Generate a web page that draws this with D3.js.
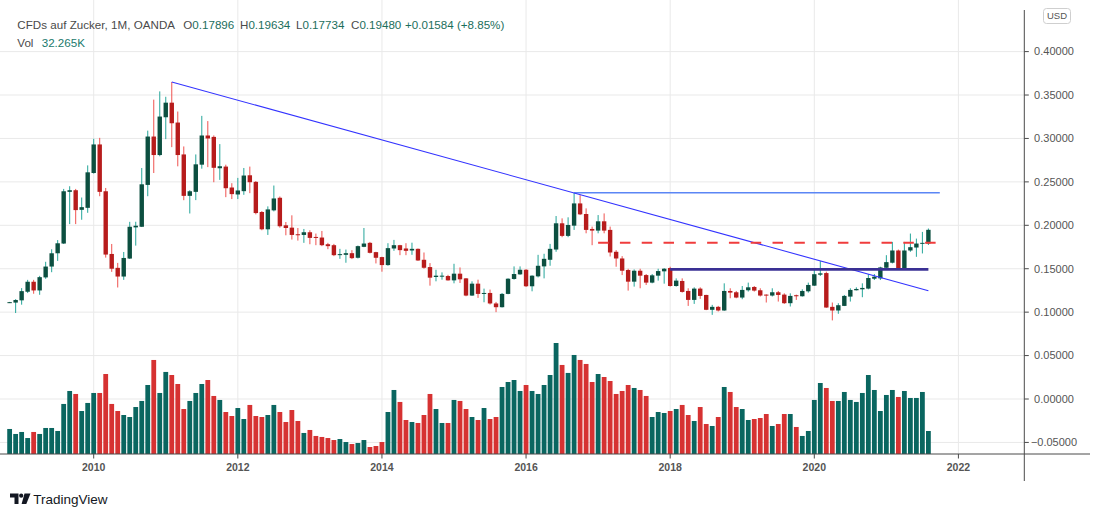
<!DOCTYPE html>
<html><head><meta charset="utf-8">
<script src="https://cdn.jsdelivr.net/npm/d3@7/dist/d3.min.js"></script>
<style>
html,body{margin:0;padding:0;background:#fff;}
svg{display:block;font-family:"Liberation Sans",Arial,sans-serif;}
</style></head><body>
<svg id="chart" width="1100" height="517"></svg>
<script>
// Month index relative to Jan 2010 (0 = Jan 2010). First bar = Nov 2008.
const firstMonth = -14;

const opens = [
0.1110,0.1110,0.1136,0.1235,0.1350,0.1250,0.1400,0.1525,0.1678,0.1790,
0.2385,0.2404,0.2178,0.2201,0.2602,0.2931,0.2392,0.1670,0.1510,0.1410,
0.1617,0.1976,0.1983,0.2465,0.3022,0.2809,0.3244,0.3412,0.3183,0.2816,
0.2339,0.2385,0.2698,0.3034,0.3018,0.2657,0.2676,0.2435,0.2355,0.2393,
0.2576,0.2500,0.2153,0.1954,0.2172,0.2317,0.2000,0.1973,0.1897,0.1889,
0.1920,0.1866,0.1859,0.1782,0.1771,0.1660,0.1660,0.1679,0.1626,0.1752,
0.1798,0.1691,0.1634,0.1542,0.1733,0.1771,0.1733,0.1710,0.1729,0.1603,
0.1519,0.1405,0.1413,0.1416,0.1366,0.1443,0.1389,0.1191,0.1328,0.1210,
0.1221,0.1100,0.1057,0.1210,0.1382,0.1435,0.1488,0.1298,0.1412,0.1527,
0.1603,0.1721,0.2023,0.1878,0.1996,0.2252,0.2130,0.1958,0.1939,0.2046,
0.1947,0.1695,0.1618,0.1485,0.1351,0.1477,0.1427,0.1340,0.1420,0.1470,
0.1508,0.1301,0.1359,0.1244,0.1141,0.1271,0.1198,0.1027,0.1061,0.1019,
0.1244,0.1229,0.1168,0.1252,0.1290,0.1252,0.1202,0.1191,0.1229,0.1202,
0.1103,0.1195,0.1183,0.1240,0.1305,0.1431,0.1450,0.1061,0.1019,0.1072,
0.1179,0.1252,0.1263,0.1271,0.1385,0.1389,0.1511,0.1569,0.1710,0.1492,
0.1710,0.1744,0.1790,0.17896];
const highs = [
0.1118,0.1150,0.1277,0.1372,0.1372,0.1418,0.1580,0.1724,0.1830,0.2419,
0.2450,0.2419,0.2320,0.2690,0.2996,0.3007,0.2430,0.1785,0.1567,0.1693,
0.2040,0.2041,0.2660,0.3090,0.3447,0.3542,0.3480,0.3650,0.3310,0.2908,
0.2404,0.2816,0.3260,0.3200,0.3035,0.2935,0.2698,0.2485,0.2546,0.2660,
0.2676,0.2510,0.2164,0.2218,0.2458,0.2332,0.2038,0.2115,0.1969,0.1958,
0.1943,0.1905,0.1935,0.1798,0.1786,0.1729,0.1721,0.1714,0.1767,0.1969,
0.1809,0.1695,0.1638,0.1794,0.1832,0.1775,0.1794,0.1800,0.1733,0.1687,
0.1565,0.1488,0.1458,0.1430,0.1557,0.1515,0.1393,0.1355,0.1374,0.1271,
0.1260,0.1118,0.1221,0.1390,0.1527,0.1527,0.1496,0.1424,0.1660,0.1672,
0.1786,0.2107,0.2080,0.2092,0.2375,0.2347,0.2195,0.1985,0.2118,0.2137,
0.1985,0.1714,0.1645,0.1500,0.1492,0.1500,0.1439,0.1439,0.1500,0.1508,
0.1523,0.1389,0.1389,0.1275,0.1286,0.1286,0.1200,0.1084,0.1072,0.1332,
0.1275,0.1244,0.1301,0.1340,0.1301,0.1275,0.1205,0.1275,0.1244,0.1217,
0.1217,0.1202,0.1263,0.1340,0.1485,0.1588,0.1466,0.1111,0.1103,0.1198,
0.1275,0.1286,0.1332,0.1439,0.1439,0.1523,0.1656,0.1809,0.1721,0.1809,
0.1905,0.1847,0.1924,0.19634];
const lows = [
0.1105,0.0990,0.1086,0.1220,0.1212,0.1200,0.1384,0.1460,0.1590,0.1785,
0.2014,0.2014,0.2064,0.2144,0.2595,0.2335,0.1628,0.1464,0.1284,0.1372,
0.1612,0.1766,0.1980,0.2335,0.2602,0.2795,0.2992,0.2900,0.2679,0.2289,
0.2136,0.2290,0.2652,0.2670,0.2496,0.2523,0.2324,0.2302,0.2302,0.2351,
0.2370,0.2126,0.1943,0.1889,0.2160,0.1973,0.1885,0.1836,0.1824,0.1798,
0.1782,0.1771,0.1760,0.1725,0.1645,0.1614,0.1569,0.1611,0.1618,0.1748,
0.1676,0.1561,0.1466,0.1534,0.1706,0.1656,0.1656,0.1660,0.1590,0.1500,
0.1305,0.1355,0.1374,0.1363,0.1332,0.1336,0.1183,0.1187,0.1164,0.1114,
0.1088,0.1000,0.1053,0.1206,0.1374,0.1430,0.1290,0.1240,0.1400,0.1389,
0.1534,0.1695,0.1863,0.1863,0.1947,0.2118,0.1908,0.1771,0.1908,0.1908,
0.1641,0.1523,0.1427,0.1248,0.1294,0.1275,0.1313,0.1332,0.1363,0.1328,
0.1294,0.1294,0.1225,0.1072,0.1095,0.1153,0.1023,0.0969,0.1008,0.1015,
0.1160,0.1160,0.1149,0.1237,0.1237,0.1180,0.1111,0.1180,0.1122,0.1095,
0.1065,0.1141,0.1179,0.1225,0.1301,0.1416,0.1050,0.0905,0.0981,0.1070,
0.1122,0.1250,0.1172,0.1263,0.1370,0.1370,0.1500,0.1561,0.1490,0.1490,
0.1695,0.1637,0.1676,0.17734];
const closes = [
0.1115,0.1140,0.1242,0.1350,0.1250,0.1403,0.1525,0.1678,0.1793,0.2392,
0.2404,0.2175,0.2209,0.2610,0.2931,0.2385,0.1663,0.1500,0.1410,0.1624,
0.1983,0.1995,0.2472,0.3022,0.2809,0.3252,0.3412,0.3175,0.2809,0.2339,
0.2392,0.2702,0.3034,0.3000,0.2662,0.2680,0.2427,0.2359,0.2401,0.2573,
0.2496,0.2141,0.1954,0.2183,0.2309,0.1989,0.1969,0.1889,0.1889,0.1920,
0.1855,0.1855,0.1771,0.1760,0.1656,0.1668,0.1679,0.1622,0.1760,0.1790,
0.1683,0.1626,0.1542,0.1737,0.1771,0.1714,0.1706,0.1729,0.1595,0.1511,
0.1397,0.1420,0.1420,0.1366,0.1443,0.1378,0.1191,0.1328,0.1210,0.1221,
0.1100,0.1057,0.1210,0.1385,0.1439,0.1488,0.1298,0.1420,0.1534,0.1614,
0.1729,0.2023,0.1878,0.2004,0.2252,0.2126,0.1947,0.1939,0.2046,0.1939,
0.1687,0.1618,0.1477,0.1351,0.1477,0.1420,0.1340,0.1424,0.1473,0.1500,
0.1301,0.1363,0.1233,0.1141,0.1271,0.1187,0.1027,0.1061,0.1019,0.1244,
0.1225,0.1168,0.1256,0.1286,0.1248,0.1191,0.1195,0.1229,0.1198,0.1103,
0.1187,0.1183,0.1244,0.1313,0.1437,0.1447,0.1053,0.1019,0.1080,0.1187,
0.1256,0.1267,0.1279,0.1393,0.1408,0.1515,0.1576,0.1710,0.1492,0.1710,
0.1748,0.1790,0.1798,0.19480];
// Volume in thousands
const volumes = [
35.1,28.1,30.9,22.4,30.9,28.1,36.5,36.5,32.3,70.2,
88.4,84.2,60.3,71.6,85.6,85.6,112.2,70.2,60.3,54.7,
51.9,65.9,74.4,96.8,131.9,85.6,115.1,110.8,98.2,63.1,
74.4,85.6,98.2,103.8,81.4,75.8,58.9,53.3,64.5,49.1,
68.8,53.3,51.9,54.7,68.8,58.9,44.9,61.7,46.3,29.5,
33.7,25.3,23.9,22.4,19.6,21.0,16.8,14.0,15.4,19.6,
9.8,11.2,16.8,58.9,89.8,73.0,47.7,44.9,43.5,54.7,
84.2,63.1,43.5,43.5,75.8,74.4,63.1,51.9,47.7,64.5,
49.1,51.9,94.0,101.0,103.8,88.4,96.8,88.4,84.2,96.8,
110.8,155.7,124.9,113.7,138.9,131.9,126.3,101.0,112.2,108.0,
102.4,84.2,88.4,96.8,92.6,89.8,81.4,51.9,58.9,57.5,
60.3,63.1,68.8,54.7,46.3,65.9,42.1,39.3,51.9,94.0,
87.0,65.9,63.1,47.7,49.1,50.5,56.1,39.3,42.1,56.1,
56.1,37.9,25.3,32.3,75.8,99.6,92.6,74.4,74.4,87.0,
75.8,73.0,85.6,110.8,89.8,60.3,82.8,89.8,80.0,88.4,
78.6,78.6,87.0,32.265];

const yearTickMonths = [0,24,48,72,96,120,144];
const yearTickLabels = ["2010","2012","2014","2016","2018","2020","2022"];
const priceTicks = [0.40,0.35,0.30,0.25,0.20,0.15,0.10,0.05,0.00,-0.05];
const priceTickLabels = ["0.40000","0.35000","0.30000","0.25000","0.20000","0.15000","0.10000","0.05000","0.00000","\u22120.05000"];

// Drawn lines: [monthIndex, price]
const trendLine = [[13,0.3650],[139,0.1247]];
const resistanceLine = [[80,0.2375],[140.9,0.2375]];
const dashedLine = [[84,0.1800],[140.6,0.1800]];
const supportLine = [[96,0.1493],[139,0.1493]];

const legendValues = {O:"0.17896",H:"0.19634",L:"0.17734",C:"0.19480",chg:"+0.01584 (+8.85%)",vol:"32.265K"};

// ---------------------------------------------------------------
const svg = d3.select("#chart");
const plotRight = 1024.3, plotBottom = 454;
const x = d3.scaleLinear().domain([0,120]).range([93.7,814.3]);
const y = d3.scaleLinear().domain([0,0.4]).range([399,51.6]);
const yVol = d3.scaleLinear().domain([0,155.7]).range([plotBottom,343]);

const upBody="#0c4f40", upWick="#26a69a", dnBody="#b71c1c", dnWick="#ef5350";
const upVol="#0a6660", dnVol="#d63232";

const bars = opens.map((o,i)=>({m:firstMonth+i,o,h:highs[i],l:lows[i],c:closes[i],v:volumes[i]}));

// grid
const grid = svg.append("g");
grid.selectAll("line.h").data(priceTicks).enter().append("line")
  .attr("x1",0).attr("x2",plotRight).attr("y1",d=>y(d)).attr("y2",d=>y(d))
  .attr("stroke","#e9e9e9").attr("stroke-width",1);
grid.selectAll("line.v").data(yearTickMonths).enter().append("line")
  .attr("x1",d=>x(d)).attr("x2",d=>x(d)).attr("y1",0).attr("y2",plotBottom)
  .attr("stroke","#e9e9e9").attr("stroke-width",1);

// volume
svg.append("g").selectAll("rect").data(bars).enter().append("rect")
  .attr("x",d=>x(d.m)-2.4).attr("width",4.8)
  .attr("y",d=>yVol(d.v)).attr("height",d=>plotBottom-yVol(d.v))
  .attr("fill",d=>d.c>=d.o?upVol:dnVol);

// candles
const cg = svg.append("g");
cg.selectAll("rect.wick").data(bars).enter().append("rect")
  .attr("x",d=>x(d.m)-0.5).attr("width",1)
  .attr("y",d=>y(d.h)).attr("height",d=>Math.max(1,y(d.l)-y(d.h)))
  .attr("fill",d=>d.c>=d.o?upWick:dnWick);
cg.selectAll("rect.body").data(bars).enter().append("rect")
  .attr("x",d=>x(d.m)-2.2).attr("width",4.4)
  .attr("y",d=>y(Math.max(d.o,d.c))).attr("height",d=>Math.max(1,Math.abs(y(d.o)-y(d.c))))
  .attr("fill",d=>d.c>=d.o?upBody:dnBody);

// drawings
const lineGen = d3.line().x(d=>x(d[0])).y(d=>y(d[1]));
svg.append("path").attr("d",lineGen(resistanceLine)).attr("fill","none").attr("stroke","#5b86f5").attr("stroke-width",1.5);
svg.append("path").attr("d",lineGen(trendLine)).attr("fill","none").attr("stroke","#3333ff").attr("stroke-width",1.1);
svg.append("path").attr("d",lineGen(dashedLine)).attr("fill","none").attr("stroke","#f03c3c").attr("stroke-width",2).attr("stroke-dasharray","10.5,11.3");
svg.append("path").attr("d",lineGen(supportLine)).attr("fill","none").attr("stroke","#3a3094").attr("stroke-width",2.6);

// axes frame
svg.append("line").attr("x1",plotRight).attr("x2",plotRight).attr("y1",10).attr("y2",481).attr("stroke","#4a4a4a").attr("stroke-width",1);
svg.append("line").attr("x1",0).attr("x2",1090).attr("y1",plotBottom).attr("y2",plotBottom).attr("stroke","#4a4a4a").attr("stroke-width",1);

// right axis ticks & labels
const ra = svg.append("g");
ra.selectAll("line").data(priceTicks).enter().append("line")
  .attr("x1",plotRight).attr("x2",plotRight+4.5).attr("y1",d=>y(d)).attr("y2",d=>y(d))
  .attr("stroke","#4a4a4a");
ra.selectAll("text").data(priceTicks).enter().append("text")
  .attr("x",1054).attr("y",d=>y(d)).attr("dy","0.35em").attr("text-anchor","middle")
  .attr("font-size","11px").attr("fill","#555")
  .text((d,i)=>priceTickLabels[i]);

// bottom axis
const ba = svg.append("g");
ba.selectAll("line").data(yearTickMonths).enter().append("line")
  .attr("x1",d=>x(d)).attr("x2",d=>x(d)).attr("y1",plotBottom).attr("y2",plotBottom+4.5)
  .attr("stroke","#4a4a4a");
ba.selectAll("text").data(yearTickMonths).enter().append("text")
  .attr("x",d=>x(d)).attr("y",471).attr("text-anchor","middle")
  .attr("font-size","10.5px").attr("font-weight","bold").attr("fill","#555")
  .text((d,i)=>yearTickLabels[i]);

// USD box
svg.append("rect").attr("x",1043.5).attr("y",8.5).attr("width",27).attr("height",15).attr("rx",3)
  .attr("fill","#fff").attr("stroke","#cfcfcf");
svg.append("text").attr("x",1057).attr("y",16).attr("dy","0.35em").attr("text-anchor","middle")
  .attr("font-size","9.5px").attr("fill","#555").text("USD");

// legend
const gray="#4a4a4a", green="#1b6e5c";
const lg = svg.append("g").attr("font-size","11.6px");
lg.append("text").attr("x",17.3).attr("y",29).attr("fill",gray).attr("textLength",157.7).text("CFDs auf Zucker, 1M, OANDA");
[["O",183.3],["H",240],["L",296],["C",351]].forEach(([k,px])=>{
  const t = lg.append("text").attr("x",px).attr("y",29);
  t.append("tspan").attr("fill",gray).text(k);
  t.append("tspan").attr("fill",green).text(legendValues[k]);
});
lg.append("text").attr("x",405).attr("y",29).attr("fill",green).text(legendValues.chg);
lg.append("text").attr("x",17.3).attr("y",46.5).attr("fill",gray).text("Vol");
lg.append("text").attr("x",41.7).attr("y",46.5).attr("fill","#1a7a6d").text(legendValues.vol);

// TradingView logo
const logo = svg.append("g").attr("fill","#131722");
logo.append("path").attr("d","M10,493.5 H18.5 V504 H14.5 V497.5 H10 Z");
logo.append("circle").attr("cx",21.2).attr("cy",495.7).attr("r",2.1);
logo.append("path").attr("d","M24.5,493.5 H30.5 L26.3,504 H21.6 Z");
svg.append("text").attr("x",33.3).attr("y",504).attr("font-size","13.5px").attr("fill","#131722").text("TradingView");
</script>
</body></html>
